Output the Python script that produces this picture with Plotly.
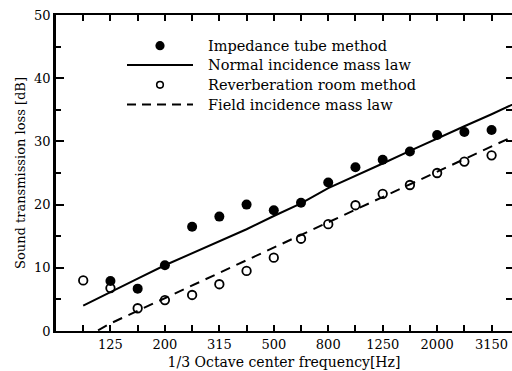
import plotly.graph_objects as go

# ---- data ----
freqs = [100, 125, 160, 200, 250, 315, 400, 500, 630, 800, 1000, 1250, 1600, 2000, 2500, 3150, 4000]
tube_tl = [None, 7.9, 6.7, 10.4, 16.5, 18.1, 20.0, 19.1, 20.3, 23.5, 25.9, 27.1, 28.4, 31.0, 31.5, 31.8, None]
reverb_tl = [8.0, 6.8, 3.6, 4.9, 5.7, 7.4, 9.5, 11.6, 14.6, 16.9, 19.9, 21.7, 23.1, 25.0, 26.8, 27.8, None]
normal_law = [4.0, 6.2, 8.3, 10.4, 12.3, 14.2, 16.1, 18.2, 20.2, 22.6, 24.5, 26.5, 28.5, 30.5, 32.4, 34.3, 36.3]
field_law = [-1.2, 1.2, 3.2, 5.2, 7.2, 9.2, 11.2, 13.2, 15.2, 17.2, 19.2, 21.2, 23.2, 25.2, 27.2, 29.2, 31.2]
labeled_freqs = [125, 200, 315, 500, 800, 1250, 2000, 3150]
legend_labels = ["Impedance tube method", "Normal incidence mass law",
                 "Reverberation room method", "Field incidence mass law"]

x = list(range(len(freqs)))
tick_text = [str(f) if f in labeled_freqs else "" for f in freqs]

W, H = 512, 371
L, R, T, B = 56, 0, 15, 40
FONT = "DejaVu Serif"

def px(xp):
    return (xp - L) / (W - L - R)

def py(yp):
    return (H - B - yp) / (H - T - B)

fig = go.Figure()
fig.add_trace(go.Scatter(x=x, y=normal_law, mode="lines", line=dict(color="black", width=2),
                         name=legend_labels[1], showlegend=False, hoverinfo="skip"))
fig.add_trace(go.Scatter(x=x, y=field_law, mode="lines", line=dict(color="black", width=2, dash="10px,7px"),
                         name=legend_labels[3], showlegend=False, hoverinfo="skip"))
fig.add_trace(go.Scatter(x=x, y=tube_tl, mode="markers",
                         marker=dict(symbol="circle", size=10, color="black"),
                         name=legend_labels[0], showlegend=False))
fig.add_trace(go.Scatter(x=x, y=reverb_tl, mode="markers",
                         marker=dict(symbol="circle-open", size=8.5, color="black", line=dict(width=1.8)),
                         name=legend_labels[2], showlegend=False))
# helper trace so the right-side tick axis is drawn
fig.add_trace(go.Scatter(x=[None], y=[None], yaxis="y2", showlegend=False, hoverinfo="skip"))

# ---- manual legend ----
shapes = []
annotations = []
rows = [45.7, 64.9, 84.8, 104.6]
r = 4.6
shapes.append(dict(type="circle", xref="paper", yref="paper",
                   x0=px(160 - r), x1=px(160 + r), y0=py(rows[0] + r), y1=py(rows[0] - r),
                   fillcolor="black", line=dict(color="black", width=0)))
shapes.append(dict(type="line", xref="paper", yref="paper",
                   x0=px(127), x1=px(193), y0=py(rows[1]), y1=py(rows[1]),
                   line=dict(color="black", width=2)))
r2 = 3.3
shapes.append(dict(type="circle", xref="paper", yref="paper",
                   x0=px(160 - r2), x1=px(160 + r2), y0=py(rows[2] + r2), y1=py(rows[2] - r2),
                   line=dict(color="black", width=1.6)))
shapes.append(dict(type="line", xref="paper", yref="paper",
                   x0=px(127), x1=px(193), y0=py(rows[3]), y1=py(rows[3]),
                   line=dict(color="black", width=2, dash="9px,6px")))
for lab, ry in zip(legend_labels, rows):
    annotations.append(dict(text=lab, xref="paper", yref="paper", x=px(206), y=py(ry),
                            xanchor="left", yanchor="middle", showarrow=False,
                            font=dict(family=FONT, size=14.5, color="black")))

fig.update_layout(
    width=W, height=H,
    margin=dict(l=L, r=R, t=T, b=B, pad=0),
    paper_bgcolor="white", plot_bgcolor="white",
    shapes=shapes, annotations=annotations,
    showlegend=False,
    xaxis=dict(
        range=[-1, 15.75], tickmode="array", tickvals=x, ticktext=tick_text,
        ticks="inside", ticklen=6, tickwidth=1.5, tickcolor="black",
        showline=True, linewidth=2, linecolor="black", mirror="ticks",
        showgrid=False, zeroline=False,
        tickfont=dict(family=FONT, size=13, color="black"),
        title=dict(text="1/3 Octave center frequency[Hz]", standoff=7,
                   font=dict(family=FONT, size=14, color="black")),
    ),
    yaxis=dict(
        range=[0, 50], tickmode="linear", tick0=0, dtick=10,
        ticks="inside", ticklen=8, tickwidth=1.5, tickcolor="black",
        minor=dict(dtick=5, ticks="inside", ticklen=5, tickwidth=1.5, tickcolor="black", showgrid=False),
        showline=True, linewidth=2.5, linecolor="black", mirror=False,
        showgrid=False, zeroline=False,
        tickfont=dict(family=FONT, size=13, color="black"),
        title=dict(text="Sound transmission loss [dB]", standoff=6,
                   font=dict(family=FONT, size=13, color="black")),
    ),
    yaxis2=dict(
        overlaying="y", side="right", anchor="x", range=[0, 50],
        tickmode="linear", tick0=0, dtick=5, ticks="inside", ticklen=6, tickwidth=1.5,
        tickcolor="black", showticklabels=False, showline=False, showgrid=False, zeroline=False,
    ),
)

fig.write_html("out.html")
